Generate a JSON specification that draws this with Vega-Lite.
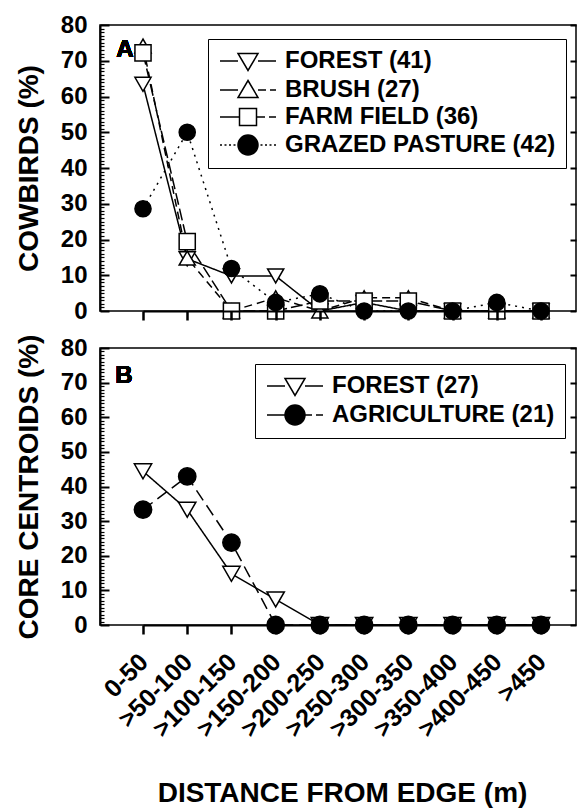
{
  "$schema": "https://vega.github.io/schema/vega-lite/v6.json",
  "background": "white",
  "padding": {"top": 12, "left": 14, "right": 0, "bottom": 0},
  "spacing": 9,
  "config": {
    "font": "Liberation Sans",
    "view": {"stroke": "black", "strokeWidth": 1.5},
    "axis": {
      "labelFont": "Liberation Sans", "labelFontWeight": "bold", "labelFontSize": 24, "labelColor": "black",
      "titleFont": "Liberation Sans", "titleFontWeight": "bold", "titleFontSize": 28, "titleColor": "black",
      "domainColor": "black", "domainWidth": 1.5, "tickColor": "black", "tickOpacity": 1, "grid": false, "ticks": true, "zindex": 1
    },
    "legend": {
      "labelFont": "Liberation Sans", "labelFontWeight": "bold", "labelFontSize": 24, "labelColor": "black", "labelLimit": 400,
      "strokeColor": "black", "symbolStrokeColor": "black", "symbolStrokeWidth": 1.5, "symbolOpacity": 1
    }
  },
  "datasets": {
    "a": [
      {"d": "0-50", "i": 0, "s": "FOREST (41)", "v": 63.4},
      {"d": ">50-100", "i": 1, "s": "FOREST (41)", "v": 14.6},
      {"d": ">100-150", "i": 2, "s": "FOREST (41)", "v": 9.8},
      {"d": ">150-200", "i": 3, "s": "FOREST (41)", "v": 9.8},
      {"d": ">200-250", "i": 4, "s": "FOREST (41)", "v": 0},
      {"d": ">250-300", "i": 5, "s": "FOREST (41)", "v": 2.4},
      {"d": ">300-350", "i": 6, "s": "FOREST (41)", "v": 0},
      {"d": ">350-400", "i": 7, "s": "FOREST (41)", "v": 0},
      {"d": ">400-450", "i": 8, "s": "FOREST (41)", "v": 0},
      {"d": ">450", "i": 9, "s": "FOREST (41)", "v": 0},
      {"d": "0-50", "i": 0, "s": "BRUSH (27)", "v": 74.1},
      {"d": ">50-100", "i": 1, "s": "BRUSH (27)", "v": 14.8},
      {"d": ">100-150", "i": 2, "s": "BRUSH (27)", "v": 0},
      {"d": ">150-200", "i": 3, "s": "BRUSH (27)", "v": 3.7},
      {"d": ">200-250", "i": 4, "s": "BRUSH (27)", "v": 0},
      {"d": ">250-300", "i": 5, "s": "BRUSH (27)", "v": 3.7},
      {"d": ">300-350", "i": 6, "s": "BRUSH (27)", "v": 3.7},
      {"d": ">350-400", "i": 7, "s": "BRUSH (27)", "v": 0},
      {"d": ">400-450", "i": 8, "s": "BRUSH (27)", "v": 0},
      {"d": ">450", "i": 9, "s": "BRUSH (27)", "v": 0},
      {"d": "0-50", "i": 0, "s": "FARM FIELD (36)", "v": 72.2},
      {"d": ">50-100", "i": 1, "s": "FARM FIELD (36)", "v": 19.4},
      {"d": ">100-150", "i": 2, "s": "FARM FIELD (36)", "v": 0},
      {"d": ">150-200", "i": 3, "s": "FARM FIELD (36)", "v": 0},
      {"d": ">200-250", "i": 4, "s": "FARM FIELD (36)", "v": 2.8},
      {"d": ">250-300", "i": 5, "s": "FARM FIELD (36)", "v": 2.8},
      {"d": ">300-350", "i": 6, "s": "FARM FIELD (36)", "v": 2.8},
      {"d": ">350-400", "i": 7, "s": "FARM FIELD (36)", "v": 0},
      {"d": ">400-450", "i": 8, "s": "FARM FIELD (36)", "v": 0},
      {"d": ">450", "i": 9, "s": "FARM FIELD (36)", "v": 0},
      {"d": "0-50", "i": 0, "s": "GRAZED PASTURE (42)", "v": 28.6},
      {"d": ">50-100", "i": 1, "s": "GRAZED PASTURE (42)", "v": 50.0},
      {"d": ">100-150", "i": 2, "s": "GRAZED PASTURE (42)", "v": 11.9},
      {"d": ">150-200", "i": 3, "s": "GRAZED PASTURE (42)", "v": 2.4},
      {"d": ">200-250", "i": 4, "s": "GRAZED PASTURE (42)", "v": 4.8},
      {"d": ">250-300", "i": 5, "s": "GRAZED PASTURE (42)", "v": 0},
      {"d": ">300-350", "i": 6, "s": "GRAZED PASTURE (42)", "v": 0},
      {"d": ">350-400", "i": 7, "s": "GRAZED PASTURE (42)", "v": 0},
      {"d": ">400-450", "i": 8, "s": "GRAZED PASTURE (42)", "v": 2.4},
      {"d": ">450", "i": 9, "s": "GRAZED PASTURE (42)", "v": 0}
    ],
    "b": [
      {"d": "0-50", "i": 0, "s": "FOREST (27)", "v": 44.4},
      {"d": ">50-100", "i": 1, "s": "FOREST (27)", "v": 33.3},
      {"d": ">100-150", "i": 2, "s": "FOREST (27)", "v": 14.8},
      {"d": ">150-200", "i": 3, "s": "FOREST (27)", "v": 7.4},
      {"d": ">200-250", "i": 4, "s": "FOREST (27)", "v": 0},
      {"d": ">250-300", "i": 5, "s": "FOREST (27)", "v": 0},
      {"d": ">300-350", "i": 6, "s": "FOREST (27)", "v": 0},
      {"d": ">350-400", "i": 7, "s": "FOREST (27)", "v": 0},
      {"d": ">400-450", "i": 8, "s": "FOREST (27)", "v": 0},
      {"d": ">450", "i": 9, "s": "FOREST (27)", "v": 0},
      {"d": "0-50", "i": 0, "s": "AGRICULTURE (21)", "v": 33.3},
      {"d": ">50-100", "i": 1, "s": "AGRICULTURE (21)", "v": 42.9},
      {"d": ">100-150", "i": 2, "s": "AGRICULTURE (21)", "v": 23.8},
      {"d": ">150-200", "i": 3, "s": "AGRICULTURE (21)", "v": 0},
      {"d": ">200-250", "i": 4, "s": "AGRICULTURE (21)", "v": 0},
      {"d": ">250-300", "i": 5, "s": "AGRICULTURE (21)", "v": 0},
      {"d": ">300-350", "i": 6, "s": "AGRICULTURE (21)", "v": 0},
      {"d": ">350-400", "i": 7, "s": "AGRICULTURE (21)", "v": 0},
      {"d": ">400-450", "i": 8, "s": "AGRICULTURE (21)", "v": 0},
      {"d": ">450", "i": 9, "s": "AGRICULTURE (21)", "v": 0}
    ]
  },
  "vconcat": [
    {
      "width": 476,
      "height": 286,
      "data": {"name": "a"},
      "layer": [
        {
          "mark": {"type": "line", "color": "black", "strokeWidth": 1.5},
          "encoding": {
            "x": {"field": "d", "type": "ordinal", "sort": ["0-50", ">50-100", ">100-150", ">150-200", ">200-250", ">250-300", ">300-350", ">350-400", ">400-450", ">450"],
              "scale": {"type": "point", "padding": 0, "domain": ["0-50", ">50-100", ">100-150", ">150-200", ">200-250", ">250-300", ">300-350", ">350-400", ">400-450", ">450"], "range": [43, 441]},
              "axis": {"labels": false, "title": null, "ticks": true, "tickSize": 9, "tickWidth": 2.5, "tickColor": "black", "domain": true, "domainColor": "black", "domainWidth": 2, "zindex": 1}},
            "y": {"field": "v", "type": "quantitative", "scale": {"domain": [0, 80], "nice": false},
              "axis": {"orient": "left", "title": "COWBIRDS (%)", "values": [0,1,2,3,4,5,6,7,8,9,10,11,12,13,14,15,16,17,18,19,20,21,22,23,24,25,26,27,28,29,30,31,32,33,34,35,36,37,38,39,40,41,42,43,44,45,46,47,48,49,50,51,52,53,54,55,56,57,58,59,60,61,62,63,64,65,66,67,68,69,70,71,72,73,74,75,76,77,78,79,80],
                "labelExpr": "datum.value % 10 === 0 ? datum.label : ''", "labelOverlap": false, "labelFlush": false,
                "tickSize": {"condition": {"test": "datum.value % 10 === 0", "value": -9}, "value": -4}, "tickWidth": {"condition": {"test": "datum.value % 10 === 0", "value": 2}, "value": 1.2}, "tickColor": "black",
                "labelPadding": 22, "titlePadding": 17, "domain": true, "domainColor": "black", "domainWidth": 2, "zindex": 1}},
            "strokeDash": {"field": "s", "type": "nominal", "legend": null,
              "scale": {"domain": ["FOREST (41)", "BRUSH (27)", "FARM FIELD (36)", "GRAZED PASTURE (42)"], "range": [[1, 0], [8, 5], [12, 4], [2, 5]]}},
            "order": {"field": "i", "type": "quantitative"}
          }
        },
        {
          "mark": {"type": "point", "filled": true, "stroke": "black", "strokeWidth": 1.5, "size": 260, "opacity": 1},
          "encoding": {
            "x": {"field": "d", "type": "ordinal"},
            "y": {"field": "v", "type": "quantitative",
              "axis": {"orient": "right", "title": null, "labels": false, "values": [0, 10, 20, 30, 40, 50, 60, 70, 80], "tickSize": -6, "tickWidth": 2, "tickColor": "black", "domain": false, "zindex": 1}},
            "shape": {"field": "s", "type": "nominal", "legend": null,
              "scale": {"domain": ["FOREST (41)", "BRUSH (27)", "FARM FIELD (36)", "GRAZED PASTURE (42)"], "range": ["triangle-down", "triangle-up", "square", "circle"]}},
            "fill": {"field": "s", "type": "nominal", "legend": null,
              "scale": {"domain": ["FOREST (41)", "BRUSH (27)", "FARM FIELD (36)", "GRAZED PASTURE (42)"], "range": ["white", "white", "white", "black"]}}
          }
        },
        {
          "mark": {"type": "point", "filled": true, "strokeWidth": 1.5, "size": 0, "opacity": 1},
          "encoding": {
            "x": {"field": "d", "type": "ordinal"},
            "y": {"field": "v", "type": "quantitative", "axis": null},
            "shape": {"field": "s", "type": "nominal", "title": null,
              "scale": {"domain": ["FOREST (41)", "BRUSH (27)", "FARM FIELD (36)", "GRAZED PASTURE (42)"],
                "range": ["M-1,0H0.8M2.8,0H4.6M0.8,-0.75L2.8,-0.75L1.8,0.95Z", "M-1,0H0.8M2.8,0H3.6M4,0H4.6M1.8,-0.95L2.8,0.75L0.8,0.75Z", "M-1,0H0.95M2.65,0H3.5M3.9,0H4.6M0.95,-0.85H2.65V0.85H0.95Z", "M-1,0H-0.8M-0.55,0H-0.35M-0.1,0H0.1M0.35,0H0.55M3.05,0H3.25M3.5,0H3.7M3.95,0H4.15M4.4,0H4.6M0.8,0A1,1,0,1,1,2.8,0A1,1,0,1,1,0.8,0Z"]},
              "legend": {"orient": "none", "legendX": 108, "legendY": 14, "title": null, "symbolSize": 400, "labelOffset": 43, "padding": 10, "rowPadding": 3}},
            "fill": {"field": "s", "type": "nominal", "title": null,
              "scale": {"domain": ["FOREST (41)", "BRUSH (27)", "FARM FIELD (36)", "GRAZED PASTURE (42)"], "range": ["white", "white", "white", "black"]}},
            "stroke": {"field": "s", "type": "nominal", "title": null,
              "scale": {"domain": ["FOREST (41)", "BRUSH (27)", "FARM FIELD (36)", "GRAZED PASTURE (42)"], "range": ["black", "black", "black", "black"]}}
          }
        },
        {
          "mark": {"type": "text", "text": "A", "fontSize": 24, "fontWeight": "bold", "font": "Liberation Sans", "dx": -18, "align": "center", "baseline": "middle", "color": "black"},
          "encoding": {
            "x": {"datum": "0-50", "type": "ordinal", "title": null},
            "y": {"datum": 73, "type": "quantitative", "axis": null}
          }
        }
      ],
      "resolve": {"axis": {"y": "independent"}, "scale": {"shape": "independent", "fill": "independent", "strokeDash": "independent", "stroke": "independent"}}
    },
    {
      "width": 476,
      "height": 277,
      "data": {"name": "b"},
      "layer": [
        {
          "mark": {"type": "line", "color": "black", "strokeWidth": 1.5},
          "encoding": {
            "x": {"field": "d", "type": "ordinal", "sort": ["0-50", ">50-100", ">100-150", ">150-200", ">200-250", ">250-300", ">300-350", ">350-400", ">400-450", ">450"],
              "scale": {"type": "point", "padding": 0, "domain": ["0-50", ">50-100", ">100-150", ">150-200", ">200-250", ">250-300", ">300-350", ">350-400", ">400-450", ">450"], "range": [43, 441]},
              "axis": {"labelAngle": -45, "labelFontSize": 25, "title": "DISTANCE FROM EDGE (m)", "ticks": true, "tickSize": 9, "tickWidth": 2.5, "tickColor": "black", "domain": true, "domainColor": "black", "domainWidth": 2, "labelPadding": 15, "labelOffset": -8, "titlePadding": 38, "zindex": 1}},
            "y": {"field": "v", "type": "quantitative", "scale": {"domain": [0, 80], "nice": false},
              "axis": {"orient": "left", "title": "CORE CENTROIDS (%)", "values": [0,1,2,3,4,5,6,7,8,9,10,11,12,13,14,15,16,17,18,19,20,21,22,23,24,25,26,27,28,29,30,31,32,33,34,35,36,37,38,39,40,41,42,43,44,45,46,47,48,49,50,51,52,53,54,55,56,57,58,59,60,61,62,63,64,65,66,67,68,69,70,71,72,73,74,75,76,77,78,79,80],
                "labelExpr": "datum.value % 10 === 0 ? datum.label : ''", "labelOverlap": false, "labelFlush": false,
                "tickSize": {"condition": {"test": "datum.value % 10 === 0", "value": -9}, "value": -4}, "tickWidth": {"condition": {"test": "datum.value % 10 === 0", "value": 2}, "value": 1.2}, "tickColor": "black",
                "labelPadding": 22, "titlePadding": 17, "domain": true, "domainColor": "black", "domainWidth": 2, "zindex": 1}},
            "strokeDash": {"field": "s", "type": "nominal", "legend": null,
              "scale": {"domain": ["FOREST (27)", "AGRICULTURE (21)"], "range": [[1, 0], [12, 6]]}},
            "order": {"field": "i", "type": "quantitative"}
          }
        },
        {
          "mark": {"type": "point", "filled": true, "stroke": "black", "strokeWidth": 1.5, "size": 300, "opacity": 1},
          "encoding": {
            "x": {"field": "d", "type": "ordinal"},
            "y": {"field": "v", "type": "quantitative",
              "axis": {"orient": "right", "title": null, "labels": false, "values": [0, 10, 20, 30, 40, 50, 60, 70, 80], "tickSize": -6, "tickWidth": 2, "tickColor": "black", "domain": false, "zindex": 1}},
            "shape": {"field": "s", "type": "nominal", "legend": null,
              "scale": {"domain": ["FOREST (27)", "AGRICULTURE (21)"], "range": ["triangle-down", "circle"]}},
            "fill": {"field": "s", "type": "nominal", "legend": null,
              "scale": {"domain": ["FOREST (27)", "AGRICULTURE (21)"], "range": ["white", "black"]}}
          }
        },
        {
          "mark": {"type": "point", "filled": true, "strokeWidth": 1.5, "size": 0, "opacity": 1},
          "encoding": {
            "x": {"field": "d", "type": "ordinal"},
            "y": {"field": "v", "type": "quantitative", "axis": null},
            "shape": {"field": "s", "type": "nominal", "title": null,
              "scale": {"domain": ["FOREST (27)", "AGRICULTURE (21)"],
                "range": ["M-1,0H0.8M2.8,0H4.6M0.8,-0.75L2.8,-0.75L1.8,0.95Z", "M-1,0H0.8M2.8,0H3.5M3.9,0H4.6M0.8,0A1,1,0,1,1,2.8,0A1,1,0,1,1,0.8,0Z"]},
              "legend": {"orient": "none", "legendX": 155, "legendY": 16, "title": null, "symbolSize": 400, "labelOffset": 43, "padding": 10, "rowPadding": 3}},
            "fill": {"field": "s", "type": "nominal", "title": null,
              "scale": {"domain": ["FOREST (27)", "AGRICULTURE (21)"], "range": ["white", "black"]}},
            "stroke": {"field": "s", "type": "nominal", "title": null,
              "scale": {"domain": ["FOREST (27)", "AGRICULTURE (21)"], "range": ["black", "black"]}}
          }
        },
        {
          "mark": {"type": "text", "text": "B", "fontSize": 24, "fontWeight": "bold", "font": "Liberation Sans", "dx": -19, "align": "center", "baseline": "middle", "color": "black"},
          "encoding": {
            "x": {"datum": "0-50", "type": "ordinal", "title": null},
            "y": {"datum": 72, "type": "quantitative", "axis": null}
          }
        }
      ],
      "resolve": {"axis": {"y": "independent"}, "scale": {"shape": "independent", "fill": "independent", "strokeDash": "independent", "stroke": "independent"}}
    }
  ],
  "resolve": {"scale": {"shape": "independent", "fill": "independent", "strokeDash": "independent", "stroke": "independent"}, "legend": {"shape": "independent", "fill": "independent", "stroke": "independent"}}
}
